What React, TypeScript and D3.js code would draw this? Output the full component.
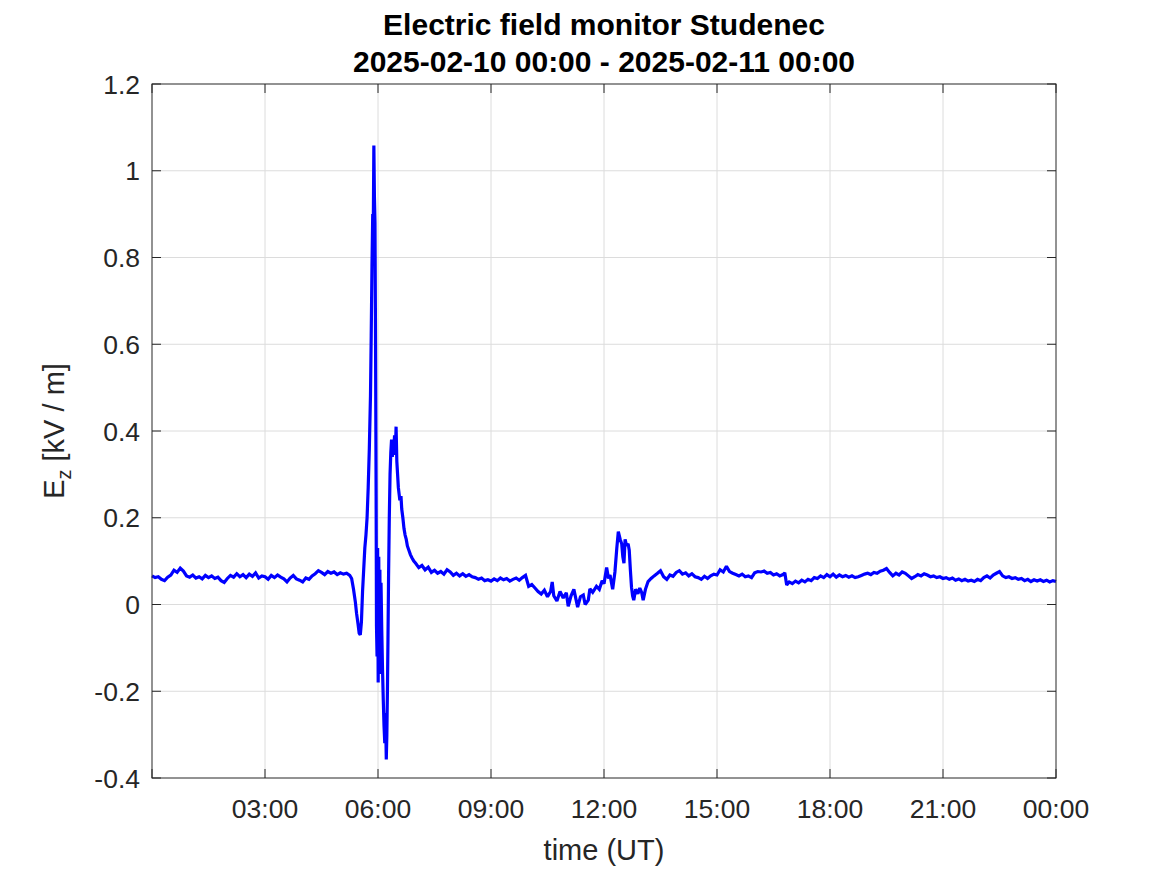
import React from "react";
import * as d3 from "d3";

// ---- Data (hours since 2025-02-10 00:00 UT, Ez in kV/m) ----
const nightSamples: [number, number][] = [
  [0.0, 0.066], [0.083, 0.062], [0.167, 0.064], [0.25, 0.058], [0.333, 0.055], [0.417, 0.063],
  [0.5, 0.068], [0.583, 0.079], [0.667, 0.074], [0.75, 0.084], [0.833, 0.077], [0.917, 0.066],
  [1.0, 0.063], [1.083, 0.068], [1.167, 0.061], [1.25, 0.064], [1.333, 0.059], [1.417, 0.067],
  [1.5, 0.062], [1.583, 0.066], [1.667, 0.06], [1.75, 0.063], [1.833, 0.055], [1.917, 0.051],
  [2.0, 0.06], [2.083, 0.067], [2.167, 0.063], [2.25, 0.071], [2.333, 0.064], [2.417, 0.069],
  [2.5, 0.062], [2.583, 0.07], [2.667, 0.065], [2.75, 0.073], [2.833, 0.061], [2.917, 0.066],
  [3.0, 0.064], [3.083, 0.058], [3.167, 0.067], [3.25, 0.062], [3.333, 0.068], [3.417, 0.063],
  [3.5, 0.059], [3.583, 0.052], [3.667, 0.061], [3.75, 0.067], [3.833, 0.059], [3.917, 0.056],
  [4.0, 0.052], [4.083, 0.061], [4.167, 0.058], [4.25, 0.066], [4.333, 0.071], [4.417, 0.078],
  [4.5, 0.074], [4.583, 0.069], [4.667, 0.076], [4.75, 0.072], [4.833, 0.075], [4.917, 0.069],
  [5.0, 0.073], [5.083, 0.07], [5.167, 0.072], [5.25, 0.067],
];

const stormSamples: [number, number][] = [
  [5.3, 0.06], [5.35, 0.035], [5.4, 0.005], [5.43, -0.02], [5.47, -0.045], [5.5, -0.066],
  [5.53, -0.07], [5.56, -0.04], [5.59, 0.03], [5.62, 0.08], [5.65, 0.13], [5.68, 0.16],
  [5.71, 0.2], [5.74, 0.27], [5.77, 0.36], [5.8, 0.48], [5.82, 0.62], [5.84, 0.78],
  [5.86, 0.9], [5.875, 0.87], [5.89, 1.058], [5.905, 0.94], [5.92, 0.88], [5.935, 0.6],
  [5.95, 0.25], [5.96, -0.05], [5.975, -0.12], [5.99, 0.13], [6.005, -0.18], [6.02, 0.11],
  [6.035, -0.1], [6.05, 0.08], [6.065, -0.16], [6.08, 0.05], [6.1, -0.06], [6.12, -0.15],
  [6.14, -0.22], [6.16, -0.28], [6.18, -0.32], [6.2, -0.25], [6.22, -0.357], [6.235, -0.3],
  [6.25, -0.2], [6.265, -0.08], [6.28, 0.06], [6.3, 0.2], [6.32, 0.3], [6.34, 0.35],
  [6.36, 0.38], [6.38, 0.34], [6.4, 0.375], [6.42, 0.36], [6.44, 0.39], [6.46, 0.345],
  [6.48, 0.41], [6.5, 0.33], [6.52, 0.3], [6.54, 0.27], [6.56, 0.255], [6.58, 0.24],
  [6.61, 0.25], [6.63, 0.22], [6.66, 0.2], [6.69, 0.175], [6.72, 0.16], [6.75, 0.15],
  [6.78, 0.135], [6.82, 0.125], [6.86, 0.115], [6.9, 0.108], [6.95, 0.1], [7.0, 0.095],
];

const morningSamples: [number, number][] = [
  [7.083, 0.085], [7.167, 0.09], [7.25, 0.08], [7.333, 0.086], [7.417, 0.074], [7.5, 0.079],
  [7.583, 0.072], [7.667, 0.076], [7.75, 0.07], [7.833, 0.08], [7.917, 0.075], [8.0, 0.067],
  [8.083, 0.072], [8.167, 0.066], [8.25, 0.071], [8.333, 0.065], [8.417, 0.069], [8.5, 0.064],
  [8.583, 0.062], [8.667, 0.058], [8.75, 0.061], [8.833, 0.055], [8.917, 0.057], [9.0, 0.054],
  [9.083, 0.059], [9.167, 0.055], [9.25, 0.061], [9.333, 0.057], [9.417, 0.06], [9.5, 0.054],
  [9.583, 0.058], [9.667, 0.061], [9.75, 0.056], [9.833, 0.062], [9.917, 0.067], [10.0, 0.042],
  [10.083, 0.046], [10.167, 0.038], [10.25, 0.03], [10.333, 0.024], [10.417, 0.033], [10.5, 0.018],
  [10.583, 0.03], [10.625, 0.052], [10.667, 0.02], [10.75, 0.008], [10.833, 0.03], [10.917, 0.015],
  [11.0, 0.027], [11.05, -0.004], [11.125, 0.02], [11.2, 0.035], [11.3, -0.006], [11.375, 0.018],
  [11.45, 0.022], [11.5, 0.0], [11.583, 0.01], [11.625, 0.036], [11.7, 0.028], [11.8, 0.042],
  [11.875, 0.035], [11.95, 0.055],
];

const noonSamples: [number, number][] = [
  [12.0, 0.048], [12.07, 0.085], [12.12, 0.06], [12.16, 0.068], [12.23, 0.035], [12.29, 0.075],
  [12.34, 0.13], [12.38, 0.168], [12.43, 0.15], [12.47, 0.14], [12.5, 0.11], [12.53, 0.095],
  [12.56, 0.15], [12.6, 0.135], [12.64, 0.14], [12.67, 0.125], [12.7, 0.08], [12.73, 0.04],
  [12.76, 0.02], [12.79, 0.01], [12.84, 0.035], [12.9, 0.025], [12.95, 0.038], [13.0, 0.028],
  [13.04, 0.01], [13.1, 0.035], [13.17, 0.053], [13.25, 0.06], [13.33, 0.066], [13.42, 0.072],
  [13.5, 0.078], [13.583, 0.064], [13.667, 0.058], [13.75, 0.068], [13.833, 0.065], [13.917, 0.074],
];

const afternoonSamples: [number, number][] = [
  [14.0, 0.078], [14.083, 0.07], [14.167, 0.073], [14.25, 0.066], [14.333, 0.071], [14.417, 0.064],
  [14.5, 0.062], [14.583, 0.058], [14.667, 0.065], [14.75, 0.06], [14.833, 0.066], [14.917, 0.07],
  [15.0, 0.068], [15.083, 0.08], [15.167, 0.075], [15.25, 0.088], [15.333, 0.076], [15.417, 0.072],
  [15.5, 0.069], [15.583, 0.066], [15.667, 0.07], [15.75, 0.064], [15.833, 0.066], [15.917, 0.062],
  [16.0, 0.073], [16.083, 0.076], [16.167, 0.075], [16.25, 0.077], [16.333, 0.072], [16.417, 0.074],
  [16.5, 0.068], [16.583, 0.071], [16.667, 0.066], [16.75, 0.069], [16.8, 0.073], [16.85, 0.045],
  [16.917, 0.052], [17.0, 0.048], [17.083, 0.054], [17.167, 0.05], [17.25, 0.056], [17.333, 0.052],
  [17.417, 0.058], [17.5, 0.055], [17.583, 0.062], [17.667, 0.06], [17.75, 0.066], [17.833, 0.062],
  [17.917, 0.069], [18.0, 0.064], [18.083, 0.07], [18.167, 0.063], [18.25, 0.068], [18.333, 0.064],
  [18.417, 0.067], [18.5, 0.063], [18.583, 0.066], [18.667, 0.062], [18.75, 0.064], [18.833, 0.067],
];

const eveningSamples: [number, number][] = [
  [18.917, 0.07], [19.0, 0.072], [19.083, 0.069], [19.167, 0.074], [19.25, 0.072], [19.333, 0.077],
  [19.417, 0.079], [19.5, 0.083], [19.583, 0.074], [19.667, 0.066], [19.75, 0.072], [19.833, 0.068],
  [19.917, 0.075], [20.0, 0.072], [20.083, 0.066], [20.167, 0.06], [20.25, 0.064], [20.333, 0.069],
  [20.417, 0.066], [20.5, 0.071], [20.583, 0.068], [20.667, 0.064], [20.75, 0.066], [20.833, 0.062],
  [20.917, 0.064], [21.0, 0.06], [21.083, 0.062], [21.167, 0.058], [21.25, 0.061], [21.333, 0.056],
  [21.417, 0.059], [21.5, 0.055], [21.583, 0.058], [21.667, 0.054], [21.75, 0.056], [21.833, 0.053],
  [21.917, 0.058], [22.0, 0.055], [22.083, 0.062], [22.167, 0.066], [22.25, 0.061], [22.333, 0.068],
  [22.417, 0.072], [22.5, 0.076], [22.583, 0.066], [22.667, 0.062], [22.75, 0.064], [22.833, 0.06],
  [22.917, 0.062], [23.0, 0.058], [23.083, 0.06], [23.167, 0.055], [23.25, 0.058], [23.333, 0.053],
  [23.417, 0.057], [23.5, 0.054], [23.583, 0.057], [23.667, 0.053], [23.75, 0.056], [23.833, 0.052],
  [23.917, 0.055], [24.0, 0.053],
];

const xTickHours = [0, 3, 6, 9, 12, 15, 18, 21, 24];
const xTickLabels = ["", "03:00", "06:00", "09:00", "12:00", "15:00", "18:00", "21:00", "00:00"];
const yTickValues = [-0.4, -0.2, 0, 0.2, 0.4, 0.6, 0.8, 1, 1.2];
const yTickLabels = ["-0.4", "-0.2", "0", "0.2", "0.4", "0.6", "0.8", "1", "1.2"];

const titleLine1 = "Electric field monitor Studenec";
const titleLine2 = "2025-02-10 00:00 - 2025-02-11 00:00";
const xLabel = "time (UT)";

export default function App() {
  const W = 1167, H = 875;
  const L = 152, R = 1056, T = 84, B = 778;
  const x = d3.scaleLinear().domain([0, 24]).range([L, R]);
  const y = d3.scaleLinear().domain([-0.4, 1.2]).range([B, T]);
  const all = [...nightSamples, ...stormSamples, ...morningSamples, ...noonSamples, ...afternoonSamples, ...eveningSamples];
  const line = d3.line<[number, number]>().x(d => x(d[0])).y(d => y(d[1]));
  const axisColor = "#262626";
  const gridColor = "#dcdcdc";
  const font = "'Liberation Sans', Arial, Helvetica, sans-serif";
  const tickLen = 9;

  return (
    <svg width={W} height={H} style={{ position: "absolute", left: 0, top: 0, background: "#fff" }} fontFamily={font}>
      <rect x={0} y={0} width={W} height={H} fill="#fff" />
      {/* grid */}
      {xTickHours.slice(1, -1).map(h => (
        <line key={"gx" + h} x1={x(h)} x2={x(h)} y1={T} y2={B} stroke={gridColor} strokeWidth={1} />
      ))}
      {yTickValues.slice(1, -1).map(v => (
        <line key={"gy" + v} x1={L} x2={R} y1={y(v)} y2={y(v)} stroke={gridColor} strokeWidth={1} />
      ))}
      {/* data */}
      <path d={line(all) || ""} fill="none" stroke="#0000ff" strokeWidth={3.2} strokeLinejoin="miter" strokeMiterlimit={2} />
      {/* box */}
      <rect x={L} y={T} width={R - L} height={B - T} fill="none" stroke={axisColor} strokeWidth={1} />
      {/* ticks */}
      {xTickHours.map(h => (
        <g key={"tx" + h}>
          <line x1={x(h)} x2={x(h)} y1={B} y2={B - tickLen} stroke={axisColor} />
          <line x1={x(h)} x2={x(h)} y1={T} y2={T + tickLen} stroke={axisColor} />
        </g>
      ))}
      {yTickValues.map(v => (
        <g key={"ty" + v}>
          <line x1={L} x2={L + tickLen} y1={y(v)} y2={y(v)} stroke={axisColor} />
          <line x1={R} x2={R - tickLen} y1={y(v)} y2={y(v)} stroke={axisColor} />
        </g>
      ))}
      {/* tick labels */}
      {xTickHours.map((h, i) => (
        <text key={"lx" + h} x={x(h)} y={818} textAnchor="middle" fontSize={26.5} fill={axisColor}>{xTickLabels[i]}</text>
      ))}
      {yTickValues.map((v, i) => (
        <text key={"ly" + v} x={140} y={y(v) + 9.5} textAnchor="end" fontSize={26.5} fill={axisColor}>{yTickLabels[i]}</text>
      ))}
      {/* axis labels */}
      <text x={(L + R) / 2} y={860} textAnchor="middle" fontSize={29} fill={axisColor}>{xLabel}</text>
      <text transform={`translate(64,${(T + B) / 2}) rotate(-90)`} textAnchor="middle" fontSize={29} fill={axisColor}>
        <tspan>E</tspan>
        <tspan fontSize={20} dy={7}>z</tspan>
        <tspan dy={-7}>{" [kV / m]"}</tspan>
      </text>
      {/* title */}
      <text x={(L + R) / 2} y={35} textAnchor="middle" fontSize={30} fontWeight="bold" fill="#000">{titleLine1}</text>
      <text x={(L + R) / 2} y={72} textAnchor="middle" fontSize={30} fontWeight="bold" fill="#000">{titleLine2}</text>
    </svg>
  );
}
